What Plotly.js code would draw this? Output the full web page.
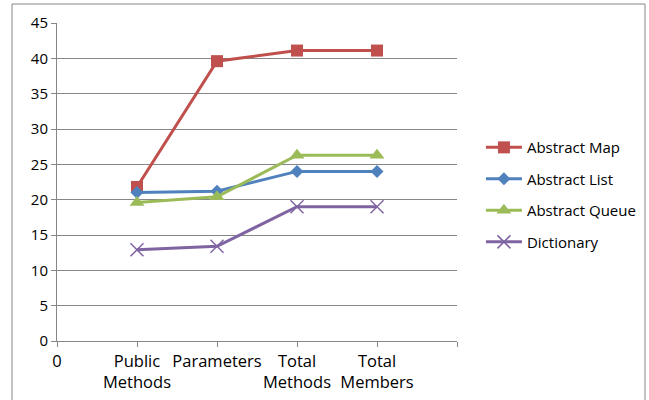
<!DOCTYPE html>
<html>
<head>
<meta charset="utf-8">
<script src="https://cdn.plot.ly/plotly-3.0.1.min.js"></script>
<style>html,body{margin:0;padding:0;background:#fff;}#chart{width:649px;height:400px;}</style>
</head>
<body>
<div id="chart"></div>
<script>
// Data
const categories = ["Public Methods", "Parameters", "Total Methods", "Total Members"];
const categoryPositions = [1, 2, 3, 4];
const tickValues = [0, 1, 2, 3, 4, 5];
const tickLabels = ["0", "Public<br>Methods", "Parameters", "Total<br>Methods", "Total<br>Members", ""];
const abstractMap = [21.8, 39.6, 41.1, 41.1];
const abstractList = [21.0, 21.2, 24.0, 24.0];
const abstractQueue = [19.6, 20.4, 26.3, 26.3];
const dictionary = [12.9, 13.4, 19.0, 19.0];
const seriesNames = ["Abstract Map", "Abstract List", "Abstract Queue", "Dictionary"];

const colors = ["#C0504D", "#4F81BD", "#9BBB59", "#8064A2"];
const symbols = ["square", "diamond", "triangle-up", "x-thin-open"];
const sizes = [12, 10, 13, 13];
const seriesData = [abstractMap, abstractList, abstractQueue, dictionary];

const traces = seriesData.map((vals, i) => ({
  x: categoryPositions,
  y: vals,
  text: categories,
  name: seriesNames[i],
  type: "scatter",
  mode: "lines+markers",
  legendgroup: "g" + i,
  line: {color: colors[i], width: 3},
  marker: {symbol: symbols[i], size: sizes[i], color: colors[i],
           line: {color: colors[i], width: i === 3 ? 1.5 : 0}}
}));

const FONT = "'Open Sans', 'DejaVu Sans', sans-serif";

const layout = {
  width: 649, height: 400,
  margin: {l: 57, r: 4, t: 23, b: 59},
  paper_bgcolor: "#fff", plot_bgcolor: "#fff",
  font: {family: FONT, color: "#000"},
  xaxis: {
    domain: [0, 400 / 588],
    range: [0, 5], tickmode: "array", tickvals: tickValues, ticktext: tickLabels,
    tickangle: 0, automargin: false,
    showgrid: false, zeroline: false, showline: true, linecolor: "#868686", linewidth: 1,
    ticks: "outside", ticklen: 5, tickcolor: "#868686",
    tickfont: {size: 16.5, family: FONT, color: "#000"}
  },
  yaxis: {
    range: [0, 45], dtick: 5, showgrid: true, gridcolor: "#868686", gridwidth: 1,
    zeroline: false, showline: true, linecolor: "#868686", linewidth: 1, automargin: false,
    ticks: "outside", ticklen: 5, tickcolor: "#868686",
    tickfont: {size: 15, family: FONT, color: "#000"}
  },
  showlegend: true,
  legend: {
    x: 0.721, y: 0.66, xanchor: "left", yanchor: "top",
    font: {size: 15, family: FONT, color: "#000"},
    tracegroupgap: 9, itemwidth: 36, bgcolor: "rgba(0,0,0,0)"
  },
  shapes: [{
    type: "rect", xref: "paper", yref: "paper",
    x0: -0.0765, x1: 1.0, y0: -0.25, y1: 1.0597,
    line: {color: "#868686", width: 1}, fillcolor: "rgba(0,0,0,0)", layer: "below"
  }]
};

Plotly.newPlot("chart", traces, layout, {displayModeBar: false, staticPlot: true});
</script>
</body>
</html>
